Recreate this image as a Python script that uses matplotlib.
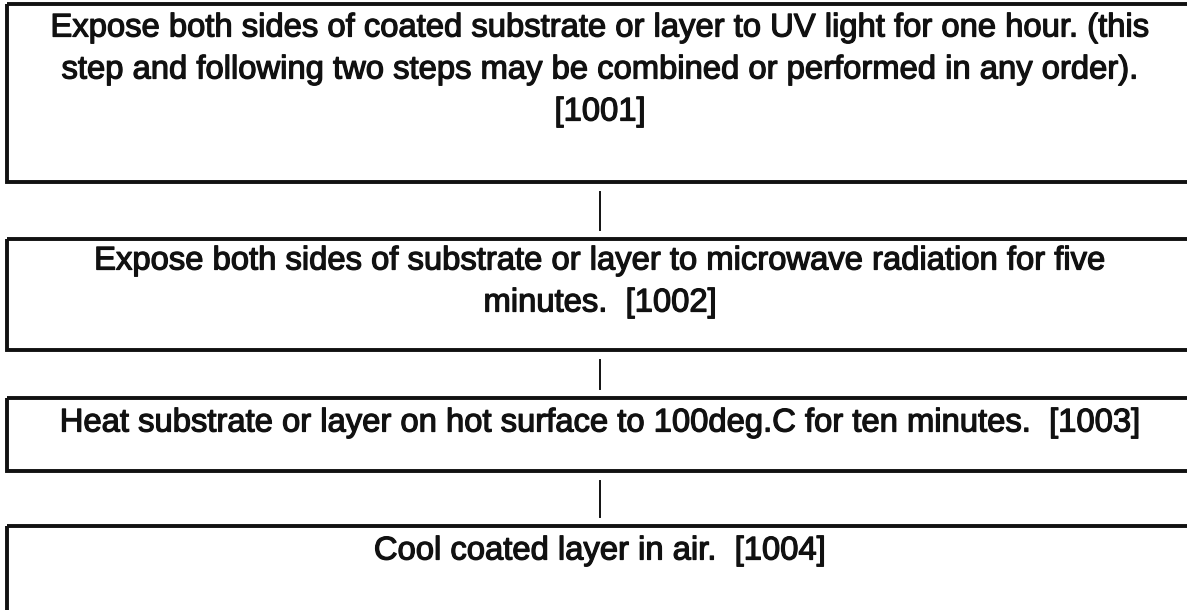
import matplotlib
matplotlib.use("Agg")
import matplotlib.pyplot as plt
import matplotlib.patheffects as pe
from matplotlib.patches import Rectangle

# step texts (wrapped as in the figure); "{id}" marks where the reference number goes
STEP_LINES = [
    ["Expose both sides of coated substrate or layer to UV light for one hour. (this",
     "step and following two steps may be combined or performed in any order).",
     "[{id}]"],
    ["Expose both sides of substrate or layer to microwave radiation for five",
     "minutes.  [{id}]"],
    ["Heat substrate or layer on hot surface to 100deg.C for ten minutes.  [{id}]"],
    ["Cool coated layer in air.  [{id}]"],
]
STEP_IDS = ["1001", "1002", "1003", "1004"]

W, H = 1187, 610
# box top / bottom in pixels, centre of first text line
BOX_Y = [(4, 182), (239, 350), (398, 471), (526, 640)]
TEXT_Y0 = [28, 261, 423, 551]
LINE_DY = 42
CX = 600
INK = "#111111"

fig = plt.figure(figsize=(W / 100, H / 100), dpi=100)
ax = fig.add_axes([0, 0, 1, 1])
ax.set_xlim(0, W)
ax.set_ylim(H, 0)
ax.set_axis_off()

heavy = [pe.withStroke(linewidth=0.9, foreground=INK)]

for i, (lines, sid) in enumerate(zip(STEP_LINES, STEP_IDS)):
    y0, y1 = BOX_Y[i]
    ax.add_patch(Rectangle((7, y0), W + 20, y1 - y0, fill=False,
                           ec=INK, lw=2.8))
    for k, s in enumerate(lines):
        ax.text(CX, TEXT_Y0[i] + k * LINE_DY, s.format(id=sid),
                ha="center", va="center", fontsize=23.6,
                family="Liberation Sans", color=INK, path_effects=heavy)

# short connectors between consecutive boxes
for a, b in zip(BOX_Y[:-1], BOX_Y[1:]):
    ax.plot([CX, CX], [a[1] + 10, b[0] - 9], color=INK, lw=1.4)

fig.savefig("out.png", dpi=100)
